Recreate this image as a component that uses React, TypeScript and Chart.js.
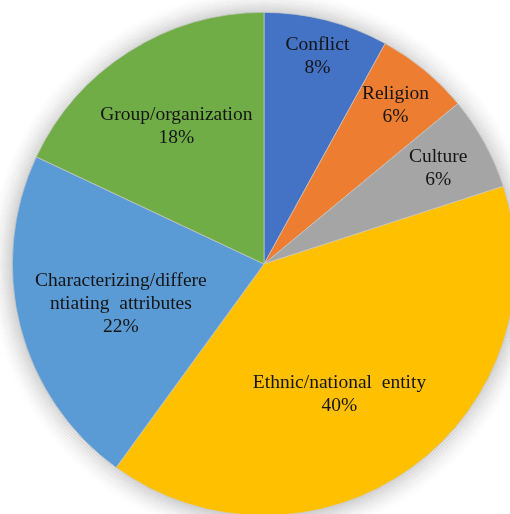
import React, { useEffect, useRef } from "react";
import { Chart, registerables } from "chart.js";

Chart.register(...registerables);

const categories = [
  "Conflict",
  "Religion",
  "Culture",
  "Ethnic/national entity",
  "Characterizing/differentiating attributes",
  "Group/organization",
];
const values = [8, 6, 6, 40, 22, 18];
const colors = ["#4472C4", "#ED7D31", "#A5A5A5", "#FFC000", "#5B9BD5", "#70AD47"];
const labelLines = [
  ["Conflict"],
  ["Religion"],
  ["Culture"],
  ["Ethnic/national  entity"],
  ["Characterizing/differe", "ntiating  attributes"],
  ["Group/organization"],
];
// label placement: fraction of radius, angle offset (degrees)
const labelRadius = [0.853, 0.82, 0.79, 0.6, 0.59, 0.65];
const labelAngleOffset = [0, 0, 0, 6, -1, 0];

const shadowPlugin = {
  id: "pieShadow",
  beforeDatasetsDraw(chart: any) {
    const meta = chart.getDatasetMeta(0);
    const arc = meta.data[0];
    if (!arc) return;
    const x = arc.x;
    const y = arc.y;
    const R = arc.outerRadius;
    const ctx = chart.ctx;
    const spread = 26;
    ctx.save();
    for (let d = spread; d >= 0; d -= 1) {
      const t = 1 - d / spread;
      const a = 0.2 * Math.pow(t, 1.6);
      ctx.strokeStyle = "rgba(0,0,0," + a.toFixed(4) + ")";
      ctx.lineWidth = 1;
      ctx.beginPath();
      ctx.arc(x, y + 1, R + d - 0.5, 0, Math.PI * 2);
      ctx.stroke();
    }
    ctx.restore();
  },
};

const labelPlugin = {
  id: "pieLabels",
  afterDatasetsDraw(chart: any) {
    const meta = chart.getDatasetMeta(0);
    const ctx = chart.ctx;
    const total = values.reduce((a, b) => a + b, 0);
    ctx.save();
    ctx.font = '19.5px "Liberation Serif", "Times New Roman", serif';
    ctx.fillStyle = "#141414";
    ctx.textAlign = "center";
    ctx.textBaseline = "middle";
    const lh = 23;
    meta.data.forEach((arc: any, i: number) => {
      const mid = (arc.startAngle + arc.endAngle) / 2 + (labelAngleOffset[i] * Math.PI) / 180;
      const r = arc.outerRadius * labelRadius[i];
      const cx = arc.x + Math.cos(mid) * r;
      const cy = arc.y + Math.sin(mid) * r;
      const lines = [...labelLines[i], Math.round((values[i] / total) * 100) + "%"];
      const top = cy - ((lines.length - 1) * lh) / 2;
      lines.forEach((ln, k) => ctx.fillText(ln, cx, top + k * lh));
    });
    ctx.restore();
  },
};

export default function App() {
  const ref = useRef<HTMLCanvasElement>(null);
  useEffect(() => {
    if (!ref.current) return;
    const chart = new Chart(ref.current, {
      type: "pie",
      data: {
        labels: categories,
        datasets: [
          {
            data: values,
            backgroundColor: colors,
            borderColor: "rgba(200,200,200,0.9)",
            borderWidth: 0.75,
          },
        ],
      },
      options: {
        responsive: false,
        animation: false,
        layout: { padding: 12 },
        plugins: {
          legend: { display: false },
          tooltip: { enabled: false },
        },
      },
      plugins: [shadowPlugin, labelPlugin],
    });
    return () => chart.destroy();
  }, []);
  return (
    <div
      style={{
        position: "fixed",
        left: 0,
        top: 0,
        width: 510,
        height: 514,
        overflow: "hidden",
        background: "#ffffff",
      }}
    >
      <canvas ref={ref} width={528} height={528} style={{ display: "block" }} />
    </div>
  );
}
